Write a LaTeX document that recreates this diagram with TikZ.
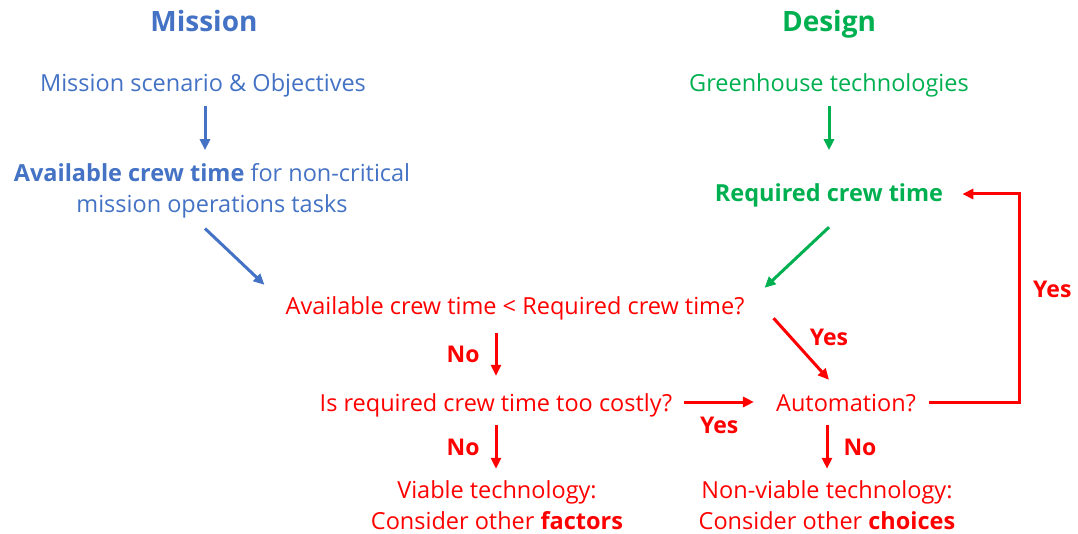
\documentclass[tikz,border=0pt]{standalone}
\usepackage{fontspec}
\setmainfont{Open Sans}
\usetikzlibrary{arrows.meta}
\definecolor{missionblue}{HTML}{4472C4}
\definecolor{designgreen}{HTML}{00B050}
\definecolor{decisionred}{HTML}{FF0000}
\tikzset{
	flow/.style={-{Triangle[length=11pt,width=10pt]}, line width=3pt},
	heading/.style={font=\fontsize{28}{32}\selectfont\bfseries, inner sep=0pt, text height=20pt, text depth=0pt},
	txt/.style={font=\fontsize{23.5}{31}\selectfont, align=center, inner sep=0pt},
	oneline/.style={txt, text height=20pt, text depth=2pt},
	lbl/.style={font=\fontsize{23}{26}\selectfont\bfseries, text=decisionred, inner sep=0pt}}

\begin{document}
\begin{tikzpicture}[x=1pt, y=-1pt]
		\useasboundingbox (0,0) rectangle (1078,534);
		
		\node[heading, text=missionblue] (mission) at (204,22) {Mission};
		\node[heading, text=designgreen] (design) at (829,22) {Design};
		
		\node[oneline, text=missionblue] (scenario) at (203,83) {Mission scenario \& Objectives};
		\node[txt, text=missionblue] (avail) at (212,191) {\textbf{Available crew time} for non-critical\\mission operations tasks};
		\node[oneline, text=designgreen, font=\fontsize{23.5}{31}\selectfont\bfseries] (req) at (829,193) {Required crew time};
		\node[oneline, text=designgreen] (tech) at (829,83) {Greenhouse technologies};
		
		\node[oneline, text=decisionred] (compare) at (515,306) {Available crew time < Required crew time?};
		\node[oneline, text=decisionred] (costly) at (496,402) {Is required crew time too costly?};
		\node[oneline, text=decisionred] (auto) at (846,402) {Automation?};
		\node[txt, text=decisionred] (viable) at (497,505.5) {Viable technology:\\Consider other \textbf{factors}};
		\node[txt, text=decisionred] (nonviable) at (827,505.5) {Non-viable technology:\\Consider other \textbf{choices}};
		\coordinate (loopright) at (1019,289);
		
		\draw[flow, missionblue] ([xshift=2pt, yshift=-12pt]scenario.south) -- ([xshift=2pt, yshift=-56pt]scenario.south);
		\draw[flow, missionblue] ([xshift=-7pt, yshift=-10pt]avail.south) -- ([xshift=-21pt, yshift=10pt]compare.north west);
		\draw[flow, designgreen] ([yshift=-12pt]tech.south) -- ([yshift=-56pt]tech.south);
		\draw[flow, designgreen] ([yshift=-23pt]req.south) -- ([xshift=20pt, yshift=7pt]compare.north east);
		
		\draw[flow, decisionred] ([xshift=29pt, yshift=-1pt]compare.south east) -- ([xshift=-17pt, yshift=11pt]auto.north);
		\node[lbl] (yes1) at (829,337) {Yes};
		\draw[flow, decisionred] ([yshift=-16pt]costly.north |- compare.south) -- ([yshift=15pt]costly.north)
			node[lbl, midway, left=15pt] (no1) {No};
		\draw[flow, decisionred] ([xshift=12pt]costly.east) -- ([xshift=-22pt]auto.west)
			node[lbl, midway, below=14pt] (yes2) {Yes};
		\draw[flow, decisionred] ([yshift=-12pt]costly.south) -- ([yshift=12pt]costly.south |- viable.north)
			node[lbl, midway, left=15pt] (no2) {No};
		\draw[flow, decisionred] ([yshift=-12pt]nonviable.north |- auto.south) -- ([yshift=12pt]nonviable.north)
			node[lbl, midway, right=15pt] (no3) {No};
		\draw[flow, decisionred] ([xshift=13pt]auto.east) -| (loopright) |- ([xshift=19pt, yshift=-1pt]req.east);
		\node[lbl, right=14pt] (yes3) at (loopright) {Yes};
		
\end{tikzpicture}
\end{document}
